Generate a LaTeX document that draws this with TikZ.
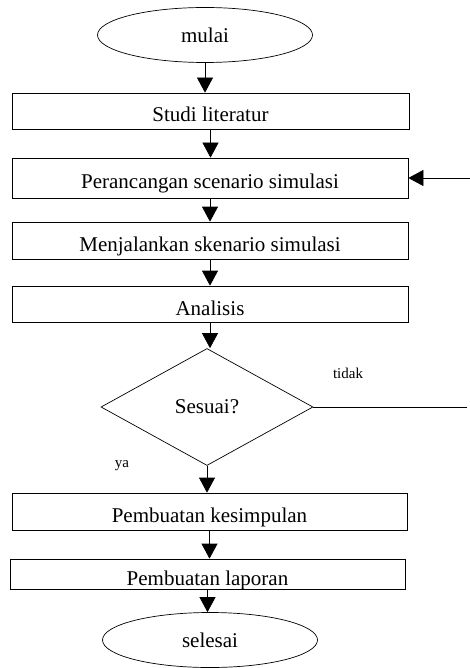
\documentclass[tikz,border=0pt]{standalone}
\usepackage{fontspec}
\setmainfont{Liberation Serif}
\usetikzlibrary{shapes.geometric,arrows.meta}

\begin{document}
\begin{tikzpicture}[x=1pt,y=-1pt,line width=0.7pt,
  kotak/.style={draw,rectangle,minimum width=#1,inner sep=0pt,text height=22pt,text depth=0pt,font=\fontsize{21}{24}\selectfont},
  kotak/.default=397pt,
  bulat/.style={draw,ellipse,minimum width=215pt,minimum height=55pt,inner sep=0pt,font=\fontsize{21}{24}\selectfont},
  belah/.style={draw,diamond,minimum width=212pt,minimum height=117pt,inner sep=0pt,font=\fontsize{21}{24}\selectfont},
  panah/.style={-{Triangle[width=16pt,length=15pt]}},
  ket/.style={font=\fontsize{15}{17}\selectfont}]
\useasboundingbox (0,0) rectangle (470,668);
    % Nodes of the flow
\node[bulat] (mulai) at (205,35) {mulai};
\node[kotak,minimum height=36pt] (studi) at (210.5,111) {Studi literatur};
\node[kotak=396pt,minimum height=40pt] (rancang) at (210,178) {Perancangan scenario simulasi};
\node[kotak=396pt,minimum height=37pt] (jalan) at (210,240.5) {Menjalankan skenario simulasi};
\node[kotak=396pt,minimum height=36pt] (analisis) at (210,304) {Analisis};
\node[belah] (sesuai) at (207,407) {Sesuai?};
\node[kotak=395pt,minimum height=37pt] (simpul) at (209.5,511.5) {Pembuatan kesimpulan};
\node[kotak=395pt,minimum height=30pt] (lapor) at (207.5,574) {Pembuatan laporan};
\node[bulat] (selesai) at (210,640) {selesai};
\node[ket] (tidak) at (348,373) {tidak};
\node[ket] (ya) at (122,466) {ya};
\coordinate (balik) at (470,178);
\coordinate (ujung) at (467,407);
    % Arrows down the flow
\foreach \a/\b in {mulai/studi,studi/rancang,rancang/jalan,jalan/analisis,analisis/sesuai,sesuai/simpul,simpul/lapor,lapor/selesai} {
  \draw[panah] (\a.south) -- (\a.south |- \b.north);
}
    % Loop back when not suitable
\draw (sesuai.east) -- (ujung);
\draw[panah] (balik) -- (rancang.east);
\end{tikzpicture}
\end{document}
